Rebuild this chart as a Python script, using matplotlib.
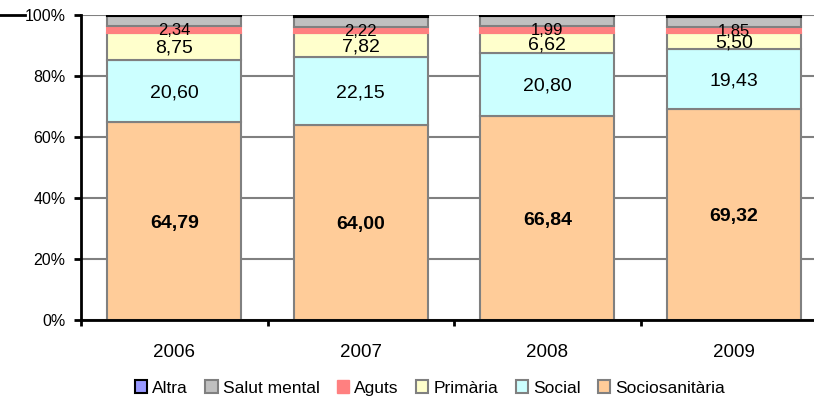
import matplotlib.pyplot as plt
from matplotlib.patches import Patch
from matplotlib.lines import Line2D

plt.rcParams['font.family'] = ['Liberation Sans', 'DejaVu Sans']

years = ['2006', '2007', '2008', '2009']
sociosanitaria = [64.79, 64.00, 66.84, 69.32]
social = [20.60, 22.15, 20.80, 19.43]
primaria = [8.75, 7.82, 6.62, 5.50]
aguts = [2.34, 2.22, 1.99, 1.85]
salut_mental = [3.12, 3.31, 3.30, 3.30]
altra = [0.40, 0.50, 0.45, 0.60]

series = [
    ('Sociosanitària', sociosanitaria, '#FFCC99', '#808080'),
    ('Social', social, '#CCFFFF', '#808080'),
    ('Primària', primaria, '#FFFFCC', '#808080'),
    ('Aguts', aguts, '#FF8080', '#FF8080'),
    ('Salut mental', salut_mental, '#C0C0C0', '#808080'),
    ('Altra', altra, '#9999FF', '#000000'),
]

fig = plt.figure(figsize=(8.14, 4.0), dpi=100)
ax = fig.add_axes([81 / 814, 80 / 400, 746 / 814, 305 / 400])

x = list(range(len(years)))
bottom = [0.0] * len(years)
for name, vals, color, edge in series:
    ax.bar(x, vals, width=0.72, bottom=bottom, color=color, edgecolor=edge,
           linewidth=1.5, zorder=3)
    for i, v in enumerate(vals):
        c = bottom[i] + v / 2
        lab = f'{v:.2f}'.replace('.', ',')
        if name == 'Sociosanitària':
            ax.text(i, c, lab, ha='center', va='center_baseline',
                    fontsize=14, fontweight='bold', zorder=5)
        elif name in ('Social', 'Primària'):
            ax.text(i, c, lab, ha='center', va='center_baseline',
                    fontsize=14, zorder=5)
        elif name == 'Aguts':
            ax.text(i, c, lab, ha='center', va='center_baseline',
                    fontsize=12, zorder=5)
    bottom = [b + v for b, v in zip(bottom, vals)]

ax.set_xlim(-0.5, 3.5)
ax.set_ylim(0, 100)
ax.set_yticks([0, 20, 40, 60, 80, 100])
ax.set_yticklabels(['0%', '20%', '40%', '60%', '80%', '100%'], fontsize=11.5)
ax.yaxis.grid(True, color='#808080', linewidth=1.5, zorder=0)
ax.set_axisbelow(True)

ax.set_xticks(x)
ax.set_xticklabels(years, fontsize=13.5)
ax.set_xticks([-0.5, 0.5, 1.5, 2.5], minor=True)
ax.tick_params(axis='x', which='major', length=0, pad=17)
ax.tick_params(axis='x', which='minor', length=4, width=2, direction='out')
ax.tick_params(axis='y', length=5, width=2, direction='out', pad=6)

for s in ['top', 'right']:
    ax.spines[s].set_visible(False)
ax.spines['left'].set_linewidth(2)
ax.spines['bottom'].set_linewidth(2)
ax.spines['bottom'].set_zorder(6)

handles = []
for n, _, c, e in series[::-1]:
    if n == 'Aguts':
        handles.append(Patch(facecolor=c, edgecolor=c, label=n))
    else:
        handles.append(Patch(facecolor=c, edgecolor=e, linewidth=1.5, label=n))
fig.legend(handles=handles, loc='center', bbox_to_anchor=(430 / 814, 1 - 388 / 400),
           ncol=6, frameon=False, fontsize=12.5, handlelength=0.7, handleheight=0.7,
           handletextpad=0.3, columnspacing=1.0, borderaxespad=0)

fig.add_artist(Line2D([0, 25 / 814], [1 - 15 / 400, 1 - 15 / 400], color='black', linewidth=2))

fig.savefig('out.png', dpi=100)
